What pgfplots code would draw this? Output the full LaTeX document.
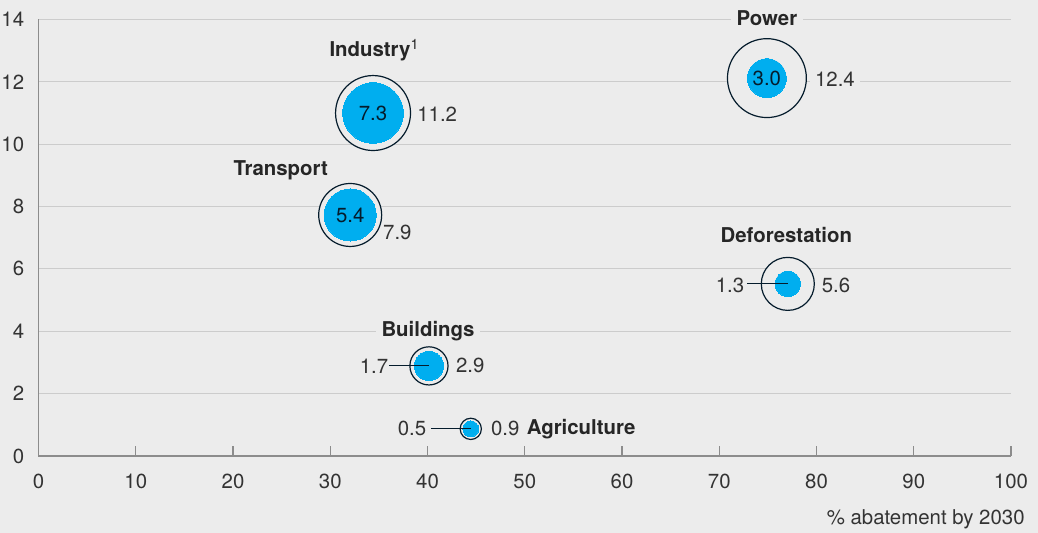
\documentclass[border=0pt]{standalone}
\usepackage{pgfplots}
\pgfplotsset{compat=1.18}
\usepackage{pgfplotstable}
\usepackage{fontspec}
\setmainfont{TeX Gyre Heros}
\definecolor{bg}{HTML}{ECECEC}
\definecolor{gridc}{HTML}{CCCCCC}
\definecolor{axc}{HTML}{8C8C8C}
\definecolor{txt}{HTML}{333333}
\definecolor{navy}{HTML}{051C2C}
\definecolor{cyanb}{HTML}{00AEEF}

\pgfplotstableread{
name x y total part
Power 74.9 12.12 12.4 3.0
Industry 34.4 11.0 11.2 7.3
Transport 32.05 7.73 7.9 5.4
Deforestation 77.05 5.52 5.6 1.3
Buildings 40.15 2.89 2.9 1.7
Agriculture 44.45 0.87 0.9 0.5
}\bubbles

\begin{document}
\begin{tikzpicture}[font=\fontsize{10.2}{12}\selectfont]
\fill[bg] (-19.25pt,-38.5pt) rectangle (499.75pt,228pt);
\begin{axis}[
  at={(0,0)}, anchor=south west,
  scale only axis, width=486.25pt, height=218.25pt,
  xmin=0, xmax=100, ymin=0, ymax=14,
  axis lines=left, axis line style={-, draw=axc, line width=0.7pt},
  xtick={0,10,...,100}, ytick={0,2,...,14},
  ymajorgrids, grid style={draw=gridc, line width=0.5pt},
  tick align=inside, major tick length=5pt,
  xtick style={draw=axc, line width=0.6pt},
  ytick style={draw=none},
  /pgf/number format/assume math mode=true,
  ticklabel style={text=txt, font=\fontsize{10.2}{12}\selectfont},
  xticklabel style={anchor=north, inner sep=0pt, yshift=-9pt},
  yticklabel style={anchor=east, inner sep=0pt, xshift=-7pt},
  xlabel={\% abatement by 2030},
  xlabel style={at={(rel axis cs:1,0)}, anchor=east, xshift=7pt, yshift=-31.5pt, inner sep=0pt, text=txt},
  clip=false,
  clip mode=individual,
  clip marker paths=true,
]
% outer circles
\addplot[scatter, only marks, mark=*,
  scatter/use mapped color={draw=navy, fill=bg},
  mark options={line width=0.6pt},
  visualization depends on={5.6*sqrt(\thisrow{total}) \as \rad},
  scatter/@pre marker code/.append style={/tikz/mark size=\rad pt}]
  table[x=x, y=y] {\bubbles};
% inner circles
\addplot[scatter, only marks, mark=*,
  scatter/use mapped color={draw=cyanb, fill=cyanb},
  mark options={line width=0pt},
  visualization depends on={5.6*sqrt(\thisrow{part}) \as \rad},
  scatter/@pre marker code/.append style={/tikz/mark size=\rad pt}]
  table[x=x, y=y] {\bubbles};
% leader lines
\addplot[navy, line width=0.6pt, mark=none] coordinates {(36.05,2.89) (40.15,2.89)};
\addplot[navy, line width=0.6pt, mark=none] coordinates {(72.85,5.52) (77.05,5.52)};
\addplot[navy, line width=0.6pt, mark=none] coordinates {(40.35,0.87) (44.45,0.87)};
% names
\addplot[draw=none, mark=none, nodes near coords, point meta=explicit symbolic,
  every node near coord/.append style={anchor=center, font=\fontsize{10.2}{12}\selectfont\bfseries, text=black!85, fill=bg, inner xsep=3pt, inner ysep=1.5pt}]
  coordinates {(74.9,14.05) [Power] (24.9,9.17) [Transport] (76.9,7.09) [Deforestation] (40.05,4.01) [Buildings] (55.8,0.87) [Agriculture]};
\addplot[draw=none, mark=none, nodes near coords, point meta=explicit symbolic,
  every node near coord/.append style={anchor=center, font=\fontsize{10.2}{12}\selectfont\bfseries, text=black!85, fill=bg, inner xsep=3pt, inner ysep=1.5pt}]
  coordinates {(34.55,13.02) [Industry\textsuperscript{\mdseries 1}]};
% values
\addplot[draw=none, mark=none, nodes near coords, point meta=explicit symbolic,
  every node near coord/.append style={anchor=center, text=txt, inner sep=0pt}]
  coordinates {(41.0,10.97) [11.2] (36.9,7.18) [7.9] (82.0,5.48) [5.6] (71.1,5.48) [1.3] (44.4,2.89) [2.9] (34.5,2.89) [1.7] (38.4,0.87) [0.5] (48.0,0.87) [0.9]};
\addplot[draw=none, mark=none, nodes near coords, point meta=explicit symbolic,
  every node near coord/.append style={anchor=center, text=txt, fill=bg, inner xsep=2.5pt, inner ysep=1pt}]
  coordinates {(81.9,12.09) [12.4]};
\addplot[draw=none, mark=none, nodes near coords, point meta=explicit symbolic,
  every node near coord/.append style={anchor=center, text=navy, inner sep=0pt}]
  coordinates {(74.9,12.12) [3.0] (34.4,11.0) [7.3] (32.05,7.73) [5.4]};
\end{axis}
\pgfresetboundingbox
\path (-19.25pt,-38.5pt) rectangle (499.75pt,228pt);
\end{tikzpicture}
\end{document}
